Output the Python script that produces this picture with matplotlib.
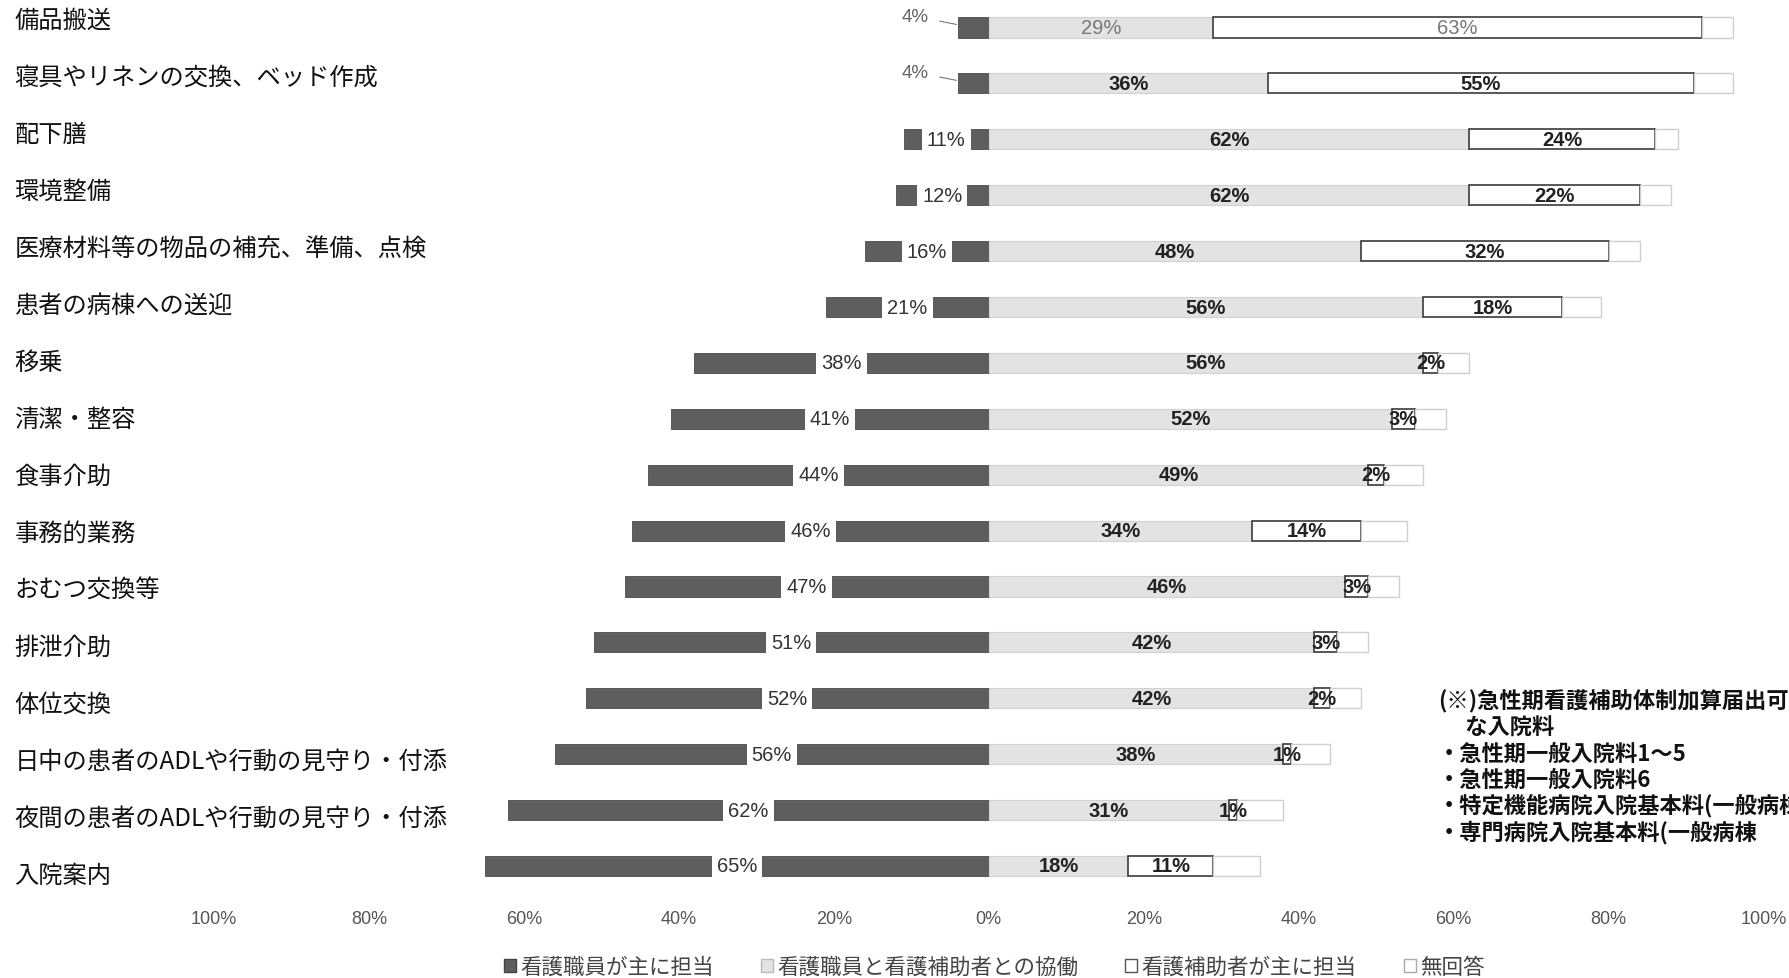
import matplotlib
matplotlib.use("Agg")
import matplotlib.pyplot as plt
import matplotlib.transforms as mtransforms
from matplotlib import font_manager
from matplotlib.patches import Patch
import numpy as np

plt.rcParams['font.family'] = ['Noto Sans CJK JP', 'DejaVu Sans']

tasks = [
    "備品搬送",
    "寝具やリネンの交換、ベッド作成",
    "配下膳",
    "環境整備",
    "医療材料等の物品の補充、準備、点検",
    "患者の病棟への送迎",
    "移乗",
    "清潔・整容",
    "食事介助",
    "事務的業務",
    "おむつ交換等",
    "排泄介助",
    "体位交換",
    "日中の患者のADLや行動の見守り・付添",
    "夜間の患者のADLや行動の見守り・付添",
    "入院案内",
]
staff_main = [4, 4, 11, 12, 16, 21, 38, 41, 44, 46, 47, 51, 52, 56, 62, 65]
shared = [29, 36, 62, 62, 48, 56, 56, 52, 49, 34, 46, 42, 42, 38, 31, 18]
aide_main = [63, 55, 24, 22, 32, 18, 2, 3, 2, 14, 3, 3, 2, 1, 1, 11]
no_answer = [4, 5, 3, 4, 4, 5, 4, 4, 5, 6, 4, 4, 4, 5, 6, 6]

legend_labels = ["看護職員が主に担当", "看護職員と看護補助者との協働",
                 "看護補助者が主に担当", "無回答"]
tick_values = [-100, -80, -60, -40, -20, 0, 20, 40, 60, 80, 100]

note_lines = [
    "(※)急性期看護補助体制加算届出可",
    "\u3000 な入院料",
    "・急性期一般入院料1～5",
    "・急性期一般入院料6",
    "・特定機能病院入院基本料(一般病棟",
    "・専門病院入院基本料(一般病棟",
]

DARK = "#5e5e5e"
LIGHT = "#e3e3e3"

installed = {f.name for f in font_manager.fontManager.ttflist}
num_font = ['Liberation Sans Narrow', 'DejaVu Sans'] if 'Liberation Sans Narrow' in installed \
    else ['Liberation Sans', 'DejaVu Sans']
num_size = 16 if 'Liberation Sans Narrow' in installed else 14.5

W, H = 1790, 979
fig = plt.figure(figsize=(W / 100, H / 100), dpi=100)
ax = fig.add_axes([0, 1 - 905 / H, 1, 905 / H])
ax.set_xlim(-127.6, 103.4)
ax.set_ylim(15.68, -0.51)

y = np.arange(len(tasks))
staff = np.array(staff_main)
sh = np.array(shared)
aide = np.array(aide_main)
na = np.array(no_answer)
bh = 0.36

ax.barh(y, -staff, height=bh, color=DARK, edgecolor="#4a4a4a", linewidth=0.6)
ax.barh(y, sh, height=bh, color=LIGHT, edgecolor="#d2d2d2", linewidth=0.8)
ax.barh(y, aide, left=sh, height=bh, color="white", edgecolor="#3a3a3a", linewidth=1.2)
ax.barh(y, na, left=sh + aide, height=bh, color="white", edgecolor="#cfcfcf", linewidth=1.0)

for i in range(len(tasks)):
    # staff share: inside the bar on a white patch, or beside it with a leader when tiny
    if staff[i] < 8:
        ax.annotate(f"{staff[i]}%", xy=(-staff[i], i - 0.05), xytext=(-staff[i] - 5.5, i - 0.2),
                    ha="center", va="center", fontsize=num_size - 1, color="#666",
                    family=num_font,
                    arrowprops=dict(arrowstyle="-", color="#777", lw=0.8, shrinkA=6, shrinkB=1))
    else:
        ax.text(-staff[i] / 2, i, f"{staff[i]}%", ha="center", va="center", fontsize=num_size,
                color="#333", family=num_font,
                bbox=dict(boxstyle="square,pad=0.25", fc="white", ec="none"))
    faint = i == 0
    ax.text(sh[i] / 2, i, f"{sh[i]}%", ha="center", va="center", fontsize=num_size,
            color="#777" if faint else "#222", weight="normal" if faint else "bold",
            family=num_font)
    ax.text(sh[i] + aide[i] / 2, i, f"{aide[i]}%", ha="center", va="center", fontsize=num_size,
            color="#777" if faint else "#222", weight="normal" if faint else "bold",
            family=num_font)

# task names sit at the far left inside the axes
label_tr = mtransforms.blended_transform_factory(ax.transAxes, ax.transData)
for i, name in enumerate(tasks):
    ax.text(0.008, i * 1.0197 - 0.143, name, transform=label_tr, ha="left", va="center",
            fontsize=17.5, color="#111")

ax.set_xticks(tick_values)
ax.set_xticklabels([f"{abs(v)}%" for v in tick_values], family=num_font, fontsize=13,
                   color="#555")
ax.tick_params(axis="x", length=0, pad=4)
ax.set_yticks([])
for s in ax.spines.values():
    s.set_visible(False)

handles = [
    Patch(facecolor=DARK, edgecolor="#444"),
    Patch(facecolor=LIGHT, edgecolor="#bbb"),
    Patch(facecolor="white", edgecolor="#555"),
    Patch(facecolor="white", edgecolor="#aaa"),
]
ax.legend(handles, legend_labels, loc="center", bbox_to_anchor=(994 / W, 1 - 968 / H),
          bbox_transform=fig.transFigure, ncol=4, frameon=False, fontsize=15.5,
          handlelength=0.55, handleheight=0.55, handletextpad=0.2, columnspacing=2.2,
          labelcolor="#444")

for k, line in enumerate(note_lines):
    fig.text(1438 / W, 1 - (702 + 26 * k) / H, line, ha="left", va="center",
             fontsize=16, weight="bold", color="#111")

fig.savefig("out.png", dpi=100, facecolor="white")
